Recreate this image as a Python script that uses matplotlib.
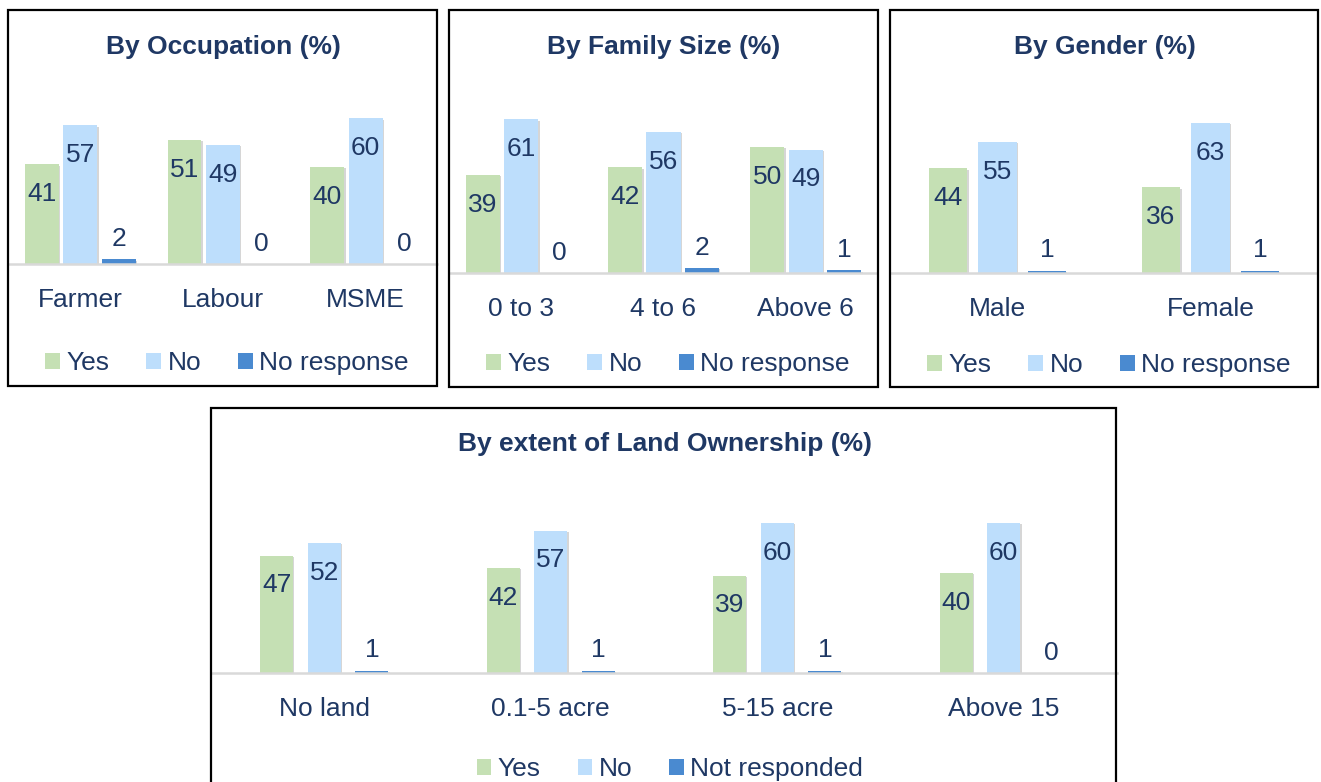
import matplotlib
matplotlib.use('Agg')
import matplotlib.pyplot as plt
import matplotlib.patheffects as pe
from matplotlib.patches import Patch, Rectangle
import numpy as np

plt.rcParams['font.family'] = ['Liberation Sans', 'DejaVu Sans']

# data
occ_cats = ['Farmer', 'Labour', 'MSME']
occ_yes = [41, 51, 40]
occ_no = [57, 49, 60]
occ_nr = [2, 0, 0]

fam_cats = ['0 to 3', '4 to 6', 'Above 6']
fam_yes = [39, 42, 50]
fam_no = [61, 56, 49]
fam_nr = [0, 2, 1]

gen_cats = ['Male', 'Female']
gen_yes = [44, 36]
gen_no = [55, 63]
gen_nr = [1, 1]

land_cats = ['No land', '0.1-5 acre', '5-15 acre', 'Above 15']
land_yes = [47, 42, 39, 40]
land_no = [52, 57, 60, 60]
land_nr = [1, 1, 1, 0]

GREEN = '#C5E0B4'
LBLUE = '#BDDEFC'
DBLUE = '#4A8AD0'
TXT = '#1F3864'

W, H = 1321, 782
fig = plt.figure(figsize=(W / 100, H / 100), dpi=100)


def px_axes(x0, y0, x1, y1):
    # pixel box (top-left origin) -> figure axes
    return fig.add_axes([x0 / W, 1 - y1 / H, (x1 - x0) / W, (y1 - y0) / H])


def box(x0, y0, x1, y1):
    fig.patches.append(Rectangle((x0 / W, 1 - y1 / H), (x1 - x0) / W, (y1 - y0) / H,
                                 transform=fig.transFigure, fill=False,
                                 edgecolor='black', linewidth=1.6))


shadow = [pe.SimplePatchShadow(offset=(1, -1), shadow_rgbFace='#8c8c8c', alpha=0.35), pe.Normal()]


def panel(rect, ymax, cats, yes, no, nr, bw, off, title, title_xy, leg_xy, nr_label):
    ax = px_axes(*rect)
    x = np.arange(len(cats))
    series = [(yes, GREEN, -off, 'in'), (no, LBLUE, 0, 'in'), (nr, DBLUE, off, 'out')]
    for vals, col, dx, where in series:
        bars = ax.bar(x + dx, vals, bw, color=col, path_effects=shadow, zorder=2)
        for b, v in zip(bars, vals):
            dy = -21.5 if where == 'in' else 14.5
            ax.annotate(str(v), (b.get_x() + b.get_width() / 2, v), xytext=(0, dy),
                        textcoords='offset points', ha='center', va='center',
                        fontsize=19, color=TXT, zorder=3)
    ax.set_xlim(-0.5, len(cats) - 0.5)
    ax.set_ylim(0, ymax)
    ax.set_xticks(x)
    ax.set_xticklabels(cats, fontsize=19, color=TXT)
    ax.tick_params(axis='x', length=0, pad=17)
    ax.set_yticks([])
    for s in ['top', 'left', 'right']:
        ax.spines[s].set_visible(False)
    ax.spines['bottom'].set_color('#D9D9D9')
    ax.spines['bottom'].set_linewidth(1.8)
    ax.patch.set_visible(False)
    fig.text(title_xy[0] / W, 1 - title_xy[1] / H, title, ha='center', va='center',
             fontsize=19, fontweight='bold', color=TXT)
    handles = [Patch(facecolor=GREEN), Patch(facecolor=LBLUE), Patch(facecolor=DBLUE)]
    fig.legend(handles, ['Yes', 'No', nr_label], loc='center',
               bbox_to_anchor=(leg_xy[0] / W, 1 - leg_xy[1] / H), ncol=3, frameon=False,
               fontsize=19, labelcolor=TXT, handlelength=0.55, handleheight=0.55,
               handletextpad=0.25, columnspacing=1.4, borderpad=0, borderaxespad=0)
    return ax


panel((9, 100, 437, 264), 164 / 2.43, occ_cats, occ_yes, occ_no, occ_nr, 0.238, 0.27,
      'By Occupation (%)', (223, 47), (227, 363), 'No response')
panel((450, 100, 877, 273), 173 / 2.52, fam_cats, fam_yes, fam_no, fam_nr, 0.24, 0.27,
      'By Family Size (%)', (664, 47), (668, 364), 'No response')
panel((891, 100, 1317, 273), 173 / 2.38, gen_cats, gen_yes, gen_no, gen_nr, 0.18, 0.232,
      'By Gender (%)', (1105, 47), (1109, 365), 'No response')
panel((211, 490, 1117, 673), 183 / 2.5, land_cats, land_yes, land_no, land_nr, 0.145, 0.21,
      'By extent of Land Ownership (%)', (665, 444), (670, 769), 'Not responded')

box(8, 10, 437, 386)
box(449, 10, 878, 387)
box(890, 10, 1318, 387)
box(211, 408, 1116, 800)

fig.savefig('out.png', dpi=100)
